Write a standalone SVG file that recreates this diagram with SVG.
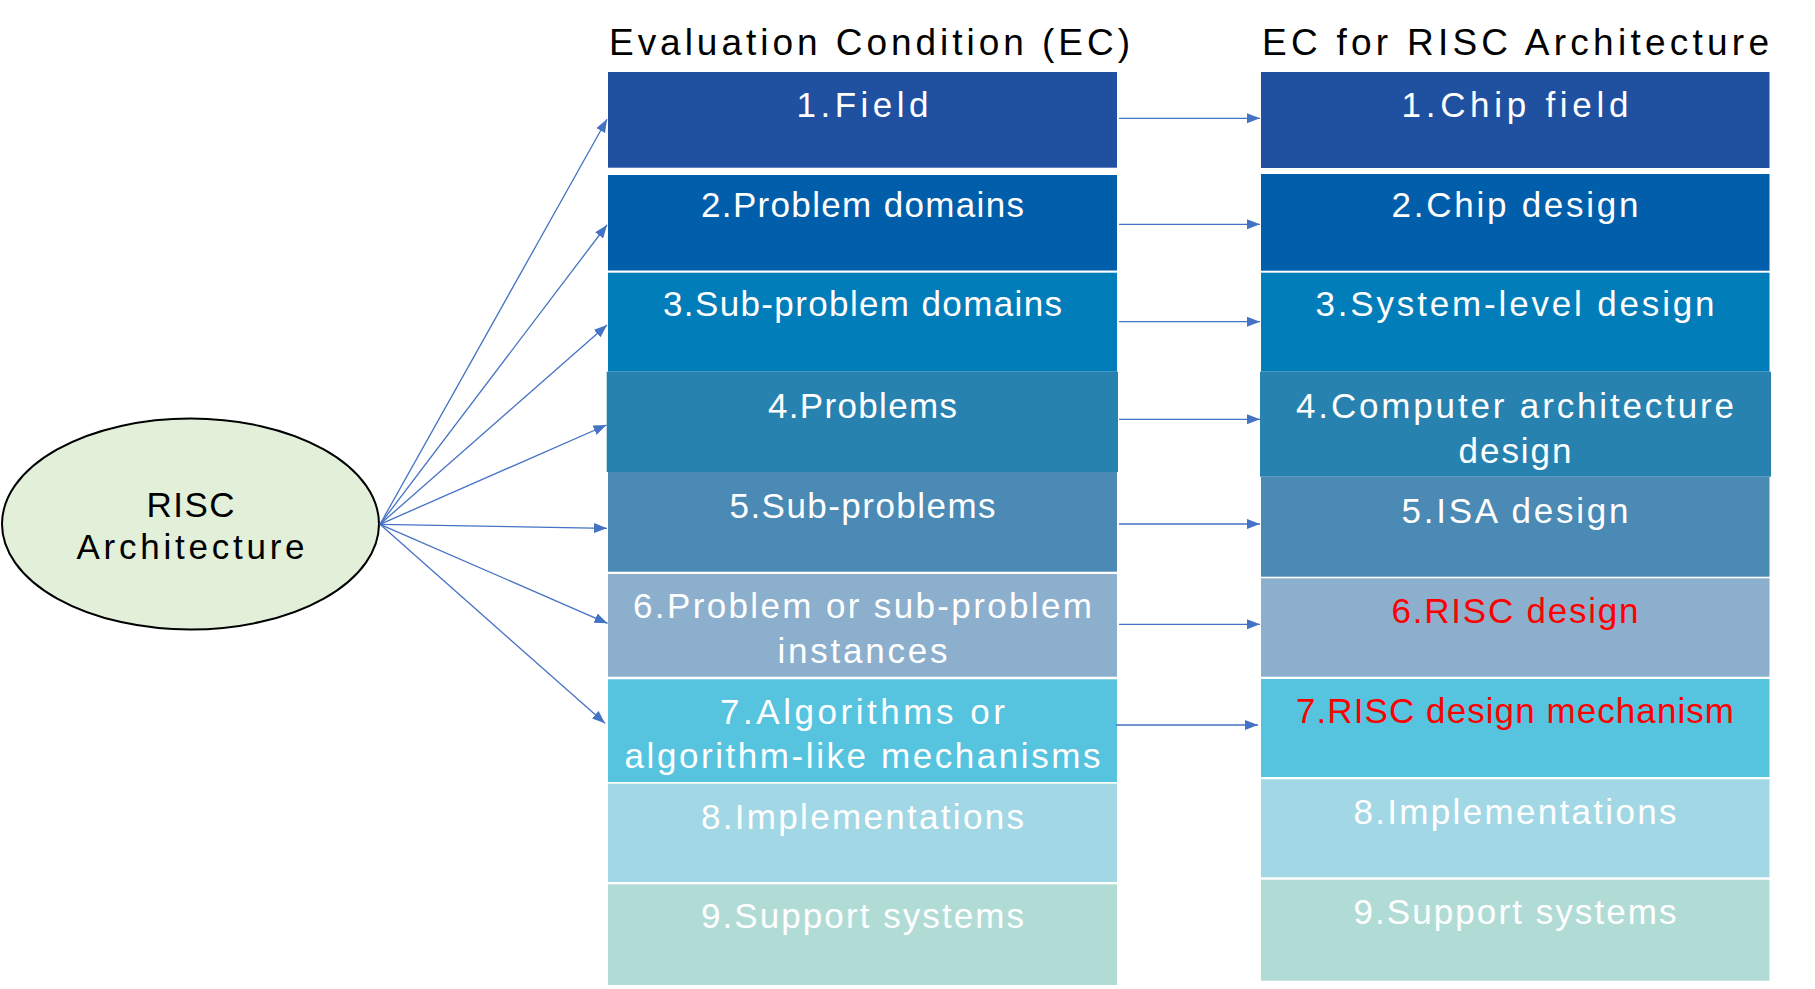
<svg xmlns="http://www.w3.org/2000/svg" width="1815" height="989" viewBox="0 0 1815 989">
<style>
.t{font-family:"Liberation Sans",Arial,sans-serif;font-size:35px;fill:#FFFFFF;text-anchor:middle}
.k{fill:#000000}
.r{fill:#FF0000}
.h{font-family:"Liberation Sans",Arial,sans-serif;font-size:37px;fill:#000000}
.c{stroke:#4472C4;stroke-width:1.3;fill:none;marker-end:url(#ah)}
</style>
<defs>
<marker id="ah" markerUnits="userSpaceOnUse" markerWidth="14" markerHeight="11" refX="13" refY="5" orient="auto">
<path d="M0,0 L13,5 L0,10 z" fill="#4472C4"/>
</marker>
</defs>
<rect width="1815" height="989" fill="#FFFFFF"/>
<text class="h" x="609" y="55" textLength="521" lengthAdjust="spacing">Evaluation Condition (EC)</text>
<text class="h" x="1262" y="55" textLength="507" lengthAdjust="spacing">EC for RISC Architecture</text>
<g id="risc">
<ellipse cx="190.5" cy="524" rx="188.5" ry="105.5" fill="#E2EFD9" stroke="#000000" stroke-width="2"/>
<text class="t k" x="190.5" y="516.7" textLength="88" lengthAdjust="spacing">RISC</text>
<text class="t k" x="190.5" y="558.7" textLength="228" lengthAdjust="spacing">Architecture</text>
</g>
<g id="ec1"><rect x="608" y="72" width="509" height="95.7" fill="#2050A0"/><text class="t" x="862.5" y="117.3" textLength="132" lengthAdjust="spacing">1.Field</text></g>
<g id="ec2"><rect x="608" y="175" width="509" height="95.5" fill="#005EAB"/><text class="t" x="862.5" y="217.3" textLength="323" lengthAdjust="spacing">2.Problem domains</text></g>
<g id="ec3"><rect x="608" y="272.7" width="509" height="99" fill="#017DB9"/><text class="t" x="862.5" y="316" textLength="399" lengthAdjust="spacing">3.Sub-problem domains</text></g>
<g id="ec4"><rect x="606.7" y="371.7" width="511.3" height="100.3" fill="#2882B0"/><text class="t" x="862.5" y="418.3" textLength="189" lengthAdjust="spacing">4.Problems</text></g>
<g id="ec5"><rect x="608" y="472" width="509" height="99.7" fill="#4A8AB5"/><text class="t" x="862.5" y="518.3" textLength="266" lengthAdjust="spacing">5.Sub-problems</text></g>
<g id="ec6"><rect x="608" y="574" width="509" height="102.7" fill="#8BAFCD"/><text class="t" x="862.5" y="618.3" textLength="459" lengthAdjust="spacing">6.Problem or sub-problem</text><text class="t" x="862.5" y="662.6" textLength="170" lengthAdjust="spacing">instances</text></g>
<g id="ec7"><rect x="608" y="679.3" width="509" height="102.7" fill="#56C3DF"/><text class="t" x="862.5" y="724" textLength="285" lengthAdjust="spacing">7.Algorithms or</text><text class="t" x="862.5" y="768.3" textLength="476" lengthAdjust="spacing">algorithm-like mechanisms</text></g>
<g id="ec8"><rect x="608" y="783.7" width="509" height="98.3" fill="#A2D8E5"/><text class="t" x="862.5" y="829" textLength="323" lengthAdjust="spacing">8.Implementations</text></g>
<g id="ec9"><rect x="608" y="884.3" width="509" height="100.7" fill="#B1DCD6"/><text class="t" x="862.5" y="928.3" textLength="323" lengthAdjust="spacing">9.Support systems</text></g>
<g id="rc1"><rect x="1261" y="72" width="508.5" height="96" fill="#2050A0"/><text class="t" x="1515" y="117.3" textLength="227" lengthAdjust="spacing">1.Chip field</text></g>
<g id="rc2"><rect x="1261" y="174" width="508.5" height="96.7" fill="#005EAB"/><text class="t" x="1515" y="217.3" textLength="247" lengthAdjust="spacing">2.Chip design</text></g>
<g id="rc3"><rect x="1261" y="272.7" width="508.5" height="99" fill="#017DB9"/><text class="t" x="1515" y="316" textLength="399" lengthAdjust="spacing">3.System-level design</text></g>
<g id="rc4"><rect x="1260" y="371.7" width="511" height="105" fill="#2882B0"/><text class="t" x="1515" y="418.3" textLength="438" lengthAdjust="spacing">4.Computer architecture</text><text class="t" x="1515" y="463.3" textLength="113" lengthAdjust="spacing">design</text></g>
<g id="rc5"><rect x="1261" y="476.7" width="508.5" height="100" fill="#4A8AB5"/><text class="t" x="1515" y="523.3" textLength="227" lengthAdjust="spacing">5.ISA design</text></g>
<g id="rc6"><rect x="1261" y="578.3" width="508.5" height="98.4" fill="#8BAFCD"/><text class="t r" x="1515" y="623.3" textLength="247" lengthAdjust="spacing">6.RISC design</text></g>
<g id="rc7"><rect x="1261" y="679" width="508.5" height="98" fill="#56C3DF"/><text class="t r" x="1515" y="723.3" textLength="438" lengthAdjust="spacing">7.RISC design mechanism</text></g>
<g id="rc8"><rect x="1261" y="779.3" width="508.5" height="98" fill="#A2D8E5"/><text class="t" x="1515" y="824" textLength="323" lengthAdjust="spacing">8.Implementations</text></g>
<g id="rc9"><rect x="1261" y="879.7" width="508.5" height="101" fill="#B1DCD6"/><text class="t" x="1515" y="924" textLength="323" lengthAdjust="spacing">9.Support systems</text></g>
<g id="connectors">
<line class="c" x1="380" y1="524.3" x2="607" y2="119.3"/>
<line class="c" x1="380" y1="524.3" x2="607" y2="225"/>
<line class="c" x1="380" y1="524.3" x2="607" y2="325"/>
<line class="c" x1="380" y1="524.3" x2="606.5" y2="425"/>
<line class="c" x1="380" y1="524.3" x2="607" y2="528.3"/>
<line class="c" x1="380" y1="524.3" x2="607.5" y2="623.3"/>
<line class="c" x1="380" y1="524.3" x2="605" y2="723.3"/>
<line class="c" x1="1119" y1="118.3" x2="1260" y2="118.3"/>
<line class="c" x1="1119" y1="224.3" x2="1260" y2="224.3"/>
<line class="c" x1="1119" y1="321.7" x2="1260" y2="321.7"/>
<line class="c" x1="1119" y1="419.3" x2="1260" y2="419.3"/>
<line class="c" x1="1119" y1="524" x2="1260" y2="524"/>
<line class="c" x1="1119" y1="624.3" x2="1260" y2="624.3"/>
<line class="c" x1="1116" y1="725" x2="1258" y2="725"/>
</g>
</svg>
